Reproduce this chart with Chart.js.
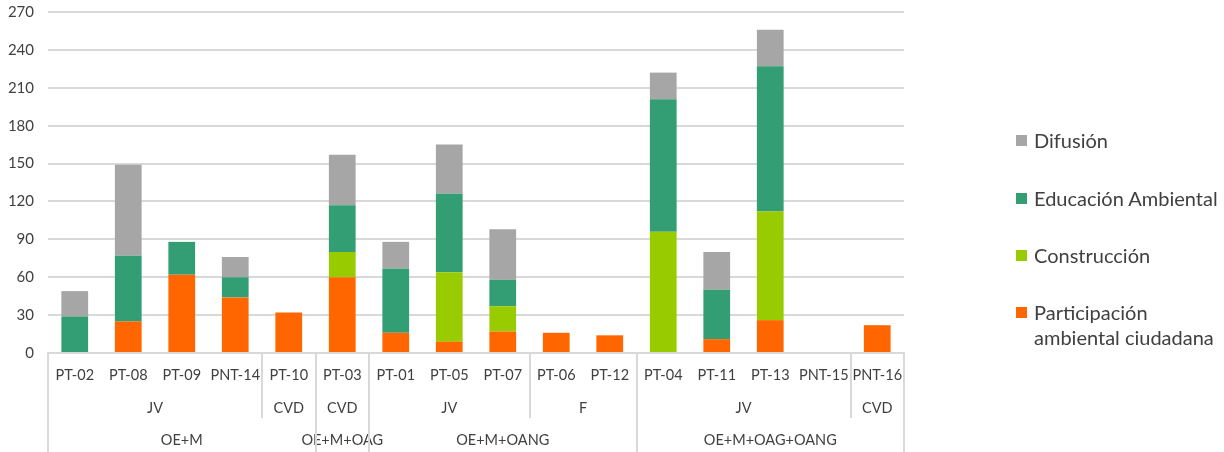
<!DOCTYPE html>
<html>
<head>
<meta charset="utf-8">
<script src="https://cdn.jsdelivr.net/npm/chart.js@4"></script>
<style>
  html,body{margin:0;padding:0;background:#fff;}
  #wrap{position:relative;width:1224px;height:452px;}
  #legend{position:absolute;left:1016px;top:0;font-family:Lato,sans-serif;font-size:20px;color:#404040;}
  .item{position:absolute;left:0;white-space:nowrap;line-height:25px;}
  .box{position:absolute;left:0;top:7px;width:11px;height:11px;}
  .txt{position:absolute;left:18px;top:0;}
</style>
</head>
<body>
<div id="wrap">
  <canvas id="chart" width="1224" height="452"></canvas>
  <div id="legend"></div>
</div>
<script>
// categories and groups (3 levels of the category axis)
const categories = ['PT-02','PT-08','PT-09','PNT-14','PT-10','PT-03','PT-01','PT-05','PT-07','PT-06','PT-12','PT-04','PT-11','PT-13','PNT-15','PNT-16'];
const subGroups = ['JV','CVD','CVD','JV','F','JV','CVD'];
const subSpans = [4,1,1,3,2,4,1];
const mainGroups = ['OE+M','OE+M+OAG','OE+M+OANG','OE+M+OAG+OANG'];
const mainSpans = [5,1,5,5];

// series (bottom to top of each stack)
const participacion = [0,25,62,44,32,60,16,9,17,16,14,0,11,26,0,22];
const construccion = [0,0,0,0,0,20,0,55,20,0,0,96,0,86,0,0];
const educacion = [29,52,26,16,0,37,51,62,21,0,0,105,39,115,0,0];
const difusion = [20,72,0,16,0,40,21,39,40,0,0,21,30,29,0,0];

const yTicks = [0,30,60,90,120,150,180,210,240,270];

const FONT = 'Lato';
const TXT = '#404040';
const LINE = '#d9d9d9';

const series = [
  {label:['Participación','ambiental ciudadana'], data:participacion, color:'#ff6600'},
  {label:['Construcción'], data:construccion, color:'#99cc00'},
  {label:['Educación Ambiental'], data:educacion, color:'#339d74'},
  {label:['Difusión'], data:difusion, color:'#a6a6a6'}
];

// draws the 2nd and 3rd rows of the category axis plus separators
const groupAxis = {
  id:'groupAxis',
  afterDraw(chart){
    const x = chart.scales.x;
    const ctx = chart.ctx;
    const step = x.getPixelForValue(1) - x.getPixelForValue(0);
    const bottom = chart.chartArea.bottom;
    const edge = i => x.getPixelForValue(i) - step/2;

    ctx.save();
    ctx.font = '14.5px ' + FONT;
    ctx.fillStyle = TXT;
    ctx.textAlign = 'center';
    ctx.textBaseline = 'middle';
    ctx.strokeStyle = LINE;
    ctx.lineWidth = 2;

    // level 3 boundaries
    const mainEdges = [0];
    let i = 0;
    mainSpans.forEach((s,k)=>{
      const l = edge(i), r = edge(i+s);
      ctx.fillText(mainGroups[k], (l+r)/2, 440);
      i += s; mainEdges.push(i);
    });
    // level 2
    i = 0;
    subSpans.forEach((s,k)=>{
      const l = edge(i), r = edge(i+s);
      ctx.fillText(subGroups[k], (l+r)/2, 408);
      i += s;
      if(!mainEdges.includes(i)){
        ctx.beginPath(); ctx.moveTo(Math.round(r), bottom); ctx.lineTo(Math.round(r), 418); ctx.stroke();
      }
    });
    mainEdges.forEach(j=>{
      const px = Math.round(edge(j));
      ctx.beginPath(); ctx.moveTo(px, bottom); ctx.lineTo(px, 452); ctx.stroke();
    });
    ctx.restore();
  }
};

new Chart(document.getElementById('chart'), {
  type:'bar',
  data:{
    labels:categories,
    datasets:series.map(s=>({
      label:s.label.join(' '),
      data:s.data,
      backgroundColor:s.color,
      borderWidth:0,
      barPercentage:0.5,
      categoryPercentage:1.0
    }))
  },
  options:{
    responsive:false,
    animation:false,
    layout:{padding:{top:12,right:320,bottom:0,left:0}},
    plugins:{legend:{display:false},tooltip:{enabled:false}},
    scales:{
      x:{
        stacked:true,
        grid:{display:false},
        border:{display:true,color:LINE,width:2},
        ticks:{font:{family:FONT,size:14.5},color:TXT,padding:6,maxRotation:0,autoSkip:false},
        afterFit(scale){ scale.height = 99; }
      },
      y:{
        stacked:true,
        min:0,max:270,
        afterBuildTicks(scale){ scale.ticks = yTicks.map(v=>({value:v})); },
        grid:{color:LINE,lineWidth:2,drawTicks:false},
        border:{display:false},
        ticks:{font:{family:FONT,size:15},color:TXT,padding:14},
        afterFit(scale){ scale.width = 48; scale.paddingTop = 0; }
      }
    }
  },
  plugins:[groupAxis]
});

// legend (top to bottom: reverse of stacking order)
const legend = document.getElementById('legend');
const legendY = [128,186,243,300];
series.slice().reverse().forEach((s,k)=>{
  const el = document.createElement('div');
  el.className = 'item';
  el.style.top = legendY[k] + 'px';
  el.innerHTML = '<div class="box" style="background:'+s.color+'"></div><div class="txt">'+s.label.join('<br>')+'</div>';
  legend.appendChild(el);
});
</script>
</body>
</html>
